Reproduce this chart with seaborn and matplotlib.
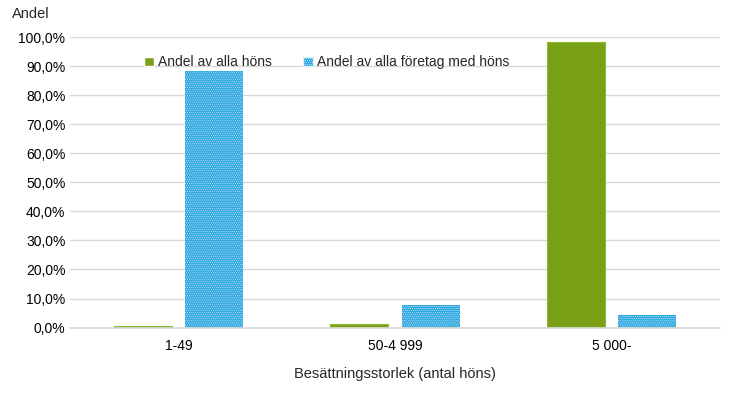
import pandas as pd
import matplotlib.pyplot as plt
import seaborn as sns
from matplotlib.ticker import FuncFormatter

sns.set_theme(style="whitegrid")
plt.rcParams["font.family"] = ["Liberation Sans", "DejaVu Sans"]
plt.rcParams["hatch.linewidth"] = 0.4

categories = ["1-49", "50-4 999", "5 000-"]
andel_hons = [0.7, 1.3, 98.3]
andel_foretag = [88.3, 7.9, 4.2]
series = ["Andel av alla höns", "Andel av alla företag med höns"]

df = pd.DataFrame({
    "storlek": categories * 2,
    "andel": andel_hons + andel_foretag,
    "serie": [series[0]] * 3 + [series[1]] * 3,
})

fig = plt.figure(figsize=(7.39, 3.99), dpi=100)
ax = fig.add_axes([0.095, 0.179, 0.879, 0.728])

sns.barplot(data=df, x="storlek", y="andel", hue="serie",
            palette=["#7aa116", "#2ea8e0"], width=0.66, gap=0.19,
            ax=ax, saturation=1)

for bar in ax.containers[0]:
    bar.set_edgecolor("#8cb832")
    bar.set_linewidth(0.8)
for bar in ax.containers[1]:
    bar.set_hatch("........")
    bar.set_edgecolor("#d8f0fb")
    bar.set_linewidth(0)

ax.set_xlim(-0.5, 2.5)
ax.set_ylim(0, 100)
ax.set_yticks(range(0, 101, 10))
ax.yaxis.set_major_formatter(FuncFormatter(lambda v, p: f"{v:.1f}%".replace(".", ",")))
ax.grid(axis="y", color="#d9d9d9", linewidth=1)
ax.grid(axis="x", visible=False)
for s in ["left", "right", "top"]:
    ax.spines[s].set_visible(False)
ax.spines["bottom"].set_color("#d9d9d9")
ax.tick_params(axis="both", labelsize=10, colors="black", length=0)
ax.tick_params(axis="x", pad=8)
ax.set_ylabel("")
ax.set_xlabel("Besättningsstorlek (antal höns)", fontsize=10.5, labelpad=10)
fig.text(0.016, 0.955, "Andel", fontsize=10.5)

leg = ax.legend(loc="upper center", bbox_to_anchor=(0.395, 0.98), ncol=2, frameon=False,
                fontsize=10, handlelength=0.7, handleheight=0.7, handletextpad=0.3,
                columnspacing=2.2)
leg.legend_handles[1].set_hatch("........")
leg.legend_handles[1].set_edgecolor("#d8f0fb")

plt.savefig("out.png", dpi=100)
